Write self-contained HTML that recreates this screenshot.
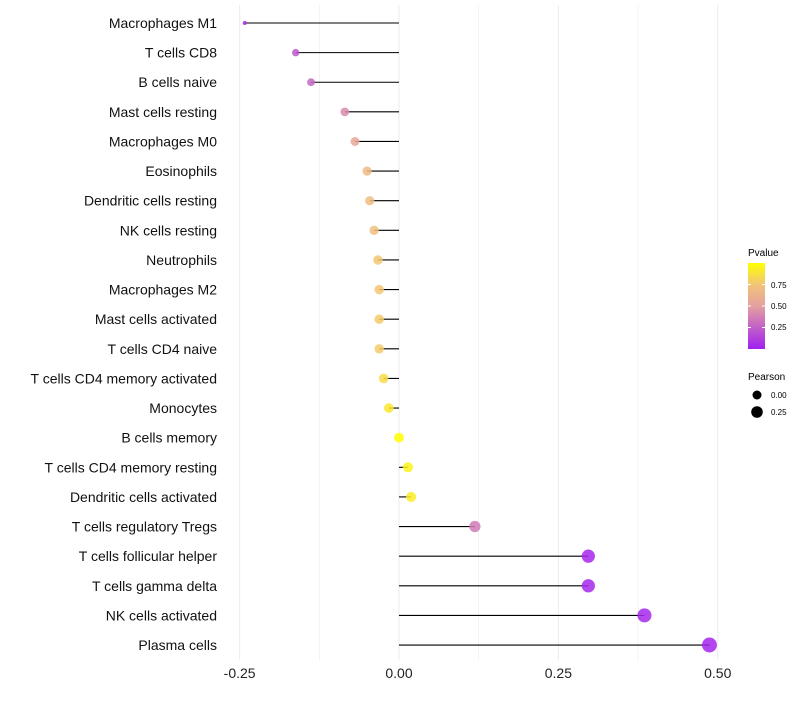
<!DOCTYPE html>
<html><head><meta charset="utf-8"><style>
body{margin:0;background:#fff;font-family:"Liberation Sans",sans-serif}
svg text{font-family:"Liberation Sans",sans-serif}
</style></head><body>
<svg id="chart" width="800" height="700">
<defs><linearGradient id="pg" x1="0" y1="1" x2="0" y2="0">
<stop offset="0" stop-color="#A020F0"/><stop offset="0.5" stop-color="#E4A0A0"/><stop offset="0.75" stop-color="#F2C478"/><stop offset="1" stop-color="#FFFF00"/></linearGradient></defs>
<g id="grid"></g><g id="marks"></g><g id="labels"></g>
<g>
<text x="748" y="256" font-size="10">Pvalue</text>
<rect x="748" y="263" width="17" height="86" fill="url(#pg)"/>
<line x1="748" y1="284.5" x2="751" y2="284.5" stroke="#fff"/><line x1="762" y1="284.5" x2="765" y2="284.5" stroke="#fff"/>
<line x1="748" y1="306" x2="751" y2="306" stroke="#fff"/><line x1="762" y1="306" x2="765" y2="306" stroke="#fff"/>
<line x1="748" y1="327.5" x2="751" y2="327.5" stroke="#fff"/><line x1="762" y1="327.5" x2="765" y2="327.5" stroke="#fff"/>
<text x="771" y="288" font-size="8">0.75</text><text x="771" y="309" font-size="8">0.50</text><text x="771" y="330" font-size="8">0.25</text>
</g>
<g>
<text x="748" y="380" font-size="10">Pearson</text>
<circle cx="757" cy="395" r="4.5" fill="#000"/><text x="771" y="398" font-size="8">0.00</text>
<circle cx="757" cy="412" r="5.8" fill="#000"/><text x="771" y="415" font-size="8">0.25</text>
</g>
</svg>
<script>
const categories=["Macrophages M1","T cells CD8","B cells naive","Mast cells resting","Macrophages M0","Eosinophils","Dendritic cells resting","NK cells resting","Neutrophils","Macrophages M2","Mast cells activated","T cells CD4 naive","T cells CD4 memory activated","Monocytes","B cells memory","T cells CD4 memory resting","Dendritic cells activated","T cells regulatory  Tregs","T cells follicular helper","T cells gamma delta","NK cells activated","Plasma cells"];
const pearson=[-0.242,-0.162,-0.138,-0.085,-0.069,-0.050,-0.046,-0.039,-0.033,-0.031,-0.031,-0.031,-0.024,-0.016,0.0,0.014,0.019,0.119,0.297,0.297,0.385,0.487];
const pvalues=[0.03,0.22,0.28,0.42,0.55,0.68,0.7,0.72,0.76,0.76,0.78,0.78,0.85,0.9,1.0,0.95,0.92,0.35,0.03,0.03,0.03,0.02];
const xTicks=[-0.25,0,0.25,0.5];
const xTickLabels=["-0.25","0.00","0.25","0.50"];
const NS="http://www.w3.org/2000/svg";
const xs=v=>399+v*637.5, ys=i=>23+i*29.62;
function col(p){const st=[[0,[160,32,240]],[0.5,[228,160,160]],[0.75,[242,196,120]],[1,[255,255,0]]];
for(let k=1;k<st.length;k++){if(p<=st[k][0]){const a=st[k-1],b=st[k],t=(p-a[0])/(b[0]-a[0]);return 'rgb('+a[1].map((c,j)=>Math.round(c+(b[1][j]-c)*t)).join(',')+')';}}return 'rgb(255,255,0)';}
function mk(t,a,p){const e=document.createElementNS(NS,t);for(const k in a)e.setAttribute(k,a[k]);p.appendChild(e);return e;}
const grid=document.getElementById('grid'),marks=document.getElementById('marks'),labels=document.getElementById('labels');
for(let v=-0.25;v<=0.5001;v+=0.125){const g=mk('line',{x1:xs(v),x2:xs(v),y1:5,y2:660,stroke:'#ebebeb','stroke-width':Math.abs(v*8%2)<0.01?1:0.6},grid);

}
xTicks.forEach((v,i)=>{const t=mk('text',{x:xs(v),y:678,'font-size':14,'text-anchor':'middle',fill:'#222'},labels);t.textContent=xTickLabels[i];

});
categories.forEach((c,i)=>{const y=ys(i);
const t=mk('text',{x:217,y:y+5,'font-size':14,'text-anchor':'end',fill:'#111'},labels);t.textContent=c;


const l=mk('line',{x1:xs(0),x2:xs(pearson[i]),y1:y,y2:y,stroke:'#000','stroke-width':1.1},marks);


const r=pearson[i]<-0.2?2:Math.sqrt(24.5+64.7*pearson[i]);
const d=mk('circle',{cx:xs(pearson[i]),cy:y,r:r,fill:col(pvalues[i]),'fill-opacity':0.85},marks);

});
</script>
</body></html>
